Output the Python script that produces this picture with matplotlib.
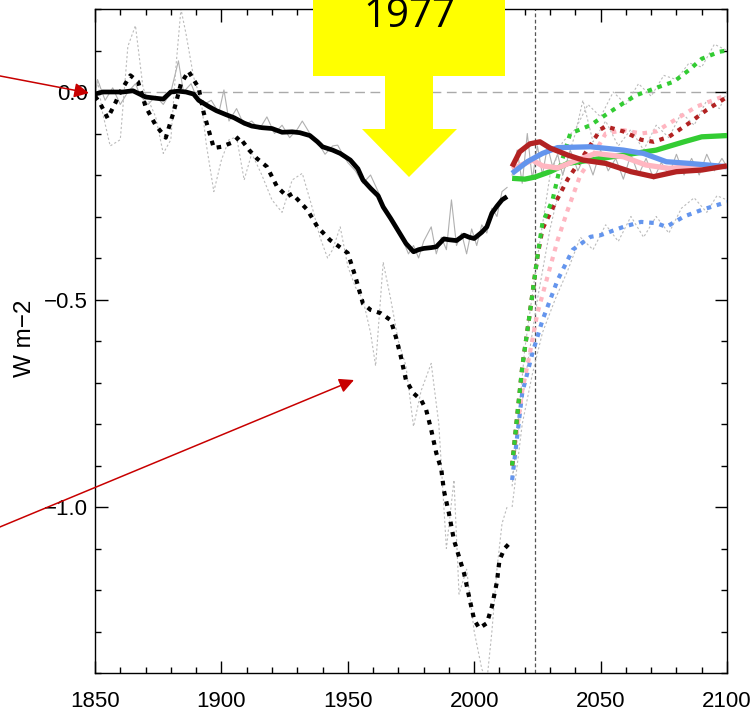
import matplotlib
matplotlib.use("Agg")
import matplotlib.pyplot as plt
from matplotlib.patches import Polygon
import numpy as np

# --- historical series ---
hist_years = [1850, 1853, 1857, 1861, 1865, 1870, 1874, 1877, 1880, 1883, 1886, 1889,
              1891, 1895, 1898, 1902, 1905, 1909, 1912, 1916, 1920, 1924, 1928, 1931,
              1935, 1938, 1940, 1944, 1947, 1951, 1954, 1956, 1959, 1962, 1964, 1967,
              1969, 1971, 1973, 1976, 1978, 1980, 1983, 1985, 1988, 1990, 1993, 1996,
              1998, 2000, 2003, 2005, 2007, 2009, 2011, 2013]
hist_mean = [-0.005, 0.0, 0.0, 0.0, 0.003, -0.012, -0.015, -0.017, 0.0, 0.002, 0.0, -0.005,
             -0.02, -0.035, -0.045, -0.055, -0.062, -0.075, -0.082, -0.086, -0.088, -0.097, -0.096, -0.098,
             -0.105, -0.12, -0.132, -0.14, -0.148, -0.164, -0.185, -0.212, -0.232, -0.25, -0.277, -0.305,
             -0.325, -0.345, -0.365, -0.385, -0.38, -0.377, -0.375, -0.373, -0.354, -0.356, -0.358, -0.345,
             -0.35, -0.353, -0.338, -0.325, -0.292, -0.275, -0.26, -0.252]

hist_dot_years = [1850, 1852, 1855, 1858, 1860, 1862, 1864, 1867, 1870, 1874, 1878, 1881,
                  1884, 1887, 1891, 1893, 1897, 1900, 1905, 1907, 1911, 1914, 1918, 1922,
                  1926, 1928, 1934, 1938, 1943, 1946, 1950, 1953, 1956, 1959, 1963, 1967,
                  1969, 1971, 1973, 1976, 1979, 1981, 1983, 1985, 1987, 1988, 1990, 1992,
                  1994, 1996, 1998, 2000, 2002, 2005, 2007, 2009, 2010, 2012, 2014]
hist_dot = [-0.01, -0.027, -0.063, -0.027, 0.0, 0.02, 0.04, 0.025, -0.035, -0.08, -0.11, -0.05,
            0.02, 0.05, 0.01, -0.05, -0.135, -0.132, -0.12, -0.108, -0.14, -0.16, -0.18, -0.228,
            -0.252, -0.245, -0.284, -0.325, -0.357, -0.37, -0.388, -0.445, -0.51, -0.525, -0.533, -0.55,
            -0.59, -0.638, -0.694, -0.726, -0.742, -0.766, -0.814, -0.87, -0.91, -0.96, -1.015, -1.08,
            -1.12, -1.16, -1.217, -1.272, -1.292, -1.28, -1.24, -1.18, -1.128, -1.10, -1.087]

# thin grey single-realisation curves
gray_years = [1850, 1851, 1854, 1857, 1860, 1863, 1866, 1868, 1871, 1874, 1877, 1880,
              1883, 1885, 1888, 1890, 1893, 1896, 1899, 1901, 1903, 1906, 1909, 1912,
              1915, 1918, 1921, 1924, 1927, 1930, 1932, 1935, 1938, 1941, 1944, 1946,
              1948, 1950, 1953, 1956, 1959, 1962, 1964, 1966, 1968, 1970, 1972, 1974,
              1976, 1978, 1980, 1983, 1985, 1987, 1989, 1991, 1993, 1995, 1997, 1999,
              2001, 2003, 2005, 2007, 2009, 2011, 2013]
gray_solid = [-0.01, 0.03, -0.02, 0.01, -0.03, 0.0, 0.02, -0.01, -0.03, -0.01, -0.03, 0.0,
              0.075, 0.0, 0.02, -0.01, -0.03, -0.02, -0.05, 0.005, -0.07, -0.04, -0.08, -0.07,
              -0.09, -0.06, -0.1, -0.08, -0.11, -0.09, -0.07, -0.1, -0.12, -0.15, -0.13, -0.128,
              -0.15, -0.17, -0.19, -0.22, -0.2, -0.24, -0.27, -0.3, -0.31, -0.34, -0.36, -0.39,
              -0.37, -0.4, -0.36, -0.325, -0.39, -0.35, -0.38, -0.26, -0.37, -0.34, -0.39, -0.33,
              -0.37, -0.32, -0.34, -0.28, -0.3, -0.24, -0.23]

gray_dot_years = [1850, 1851, 1853, 1856, 1860, 1863, 1866, 1869, 1874, 1877, 1880, 1882,
                  1884, 1886, 1889, 1892, 1894, 1897, 1900, 1903, 1906, 1909, 1912, 1916,
                  1920, 1924, 1928, 1932, 1936, 1939, 1942, 1944, 1947, 1950, 1953, 1956,
                  1959, 1961, 1964, 1967, 1970, 1973, 1976, 1979, 1983, 1986, 1989, 1992,
                  1994, 1997, 2000, 2003, 2005, 2007, 2009, 2011, 2013]
gray_dot = [-0.02, 0.03, -0.05, -0.13, -0.115, 0.11, 0.16, 0.01, -0.06, -0.148, -0.115, 0.06,
            0.2, 0.14, 0.036, -0.02, -0.125, -0.24, -0.164, -0.115, -0.108, -0.212, -0.148, -0.2,
            -0.26, -0.29, -0.212, -0.196, -0.28, -0.35, -0.40, -0.38, -0.325, -0.42, -0.47, -0.5,
            -0.58, -0.66, -0.41, -0.5, -0.6, -0.66, -0.806, -0.72, -0.654, -0.8, -1.10, -0.935,
            -1.21, -1.15, -1.3, -1.39, -1.42, -1.3, -1.15, -1.04, -1.0]

# --- future scenarios ---
green_yrs = [2015, 2020, 2024, 2030, 2037, 2046, 2059, 2072, 2083, 2090, 2100]
green_sol = [-0.208, -0.21, -0.205, -0.192, -0.172, -0.164, -0.152, -0.14, -0.12, -0.108, -0.105]
red_yrs = [2015, 2018, 2022, 2026, 2030, 2037, 2043, 2052, 2062, 2071, 2080, 2090, 2100]
red_sol = [-0.18, -0.144, -0.125, -0.12, -0.135, -0.152, -0.164, -0.172, -0.192, -0.204, -0.192, -0.188, -0.178]
blue_yrs = [2015, 2021, 2027, 2033, 2046, 2059, 2067, 2076, 2085, 2100]
blue_sol = [-0.196, -0.168, -0.148, -0.134, -0.132, -0.14, -0.148, -0.168, -0.172, -0.18]
pink_yrs = [2015, 2019, 2023, 2027, 2033, 2039, 2048, 2059, 2068, 2077, 2085, 2100]
pink_sol = [-0.186, -0.175, -0.164, -0.178, -0.183, -0.168, -0.148, -0.156, -0.176, -0.184, -0.18, -0.18]

green_dot_yrs = [2015, 2019, 2022, 2025, 2027, 2031, 2034, 2038, 2046, 2052, 2059, 2064, 2072, 2079, 2085, 2090, 2097, 2100]
green_dot = [-0.90, -0.663, -0.533, -0.397, -0.316, -0.26, -0.18, -0.1, -0.08, -0.055, -0.027, -0.008, 0.01, 0.025, 0.053, 0.08, 0.097, 0.1]
red_dot_yrs = [2015, 2019, 2022, 2025, 2027, 2031, 2037, 2043, 2050, 2052, 2059, 2066, 2071, 2077, 2085, 2092, 2100]
red_dot = [-0.90, -0.663, -0.533, -0.397, -0.33, -0.28, -0.21, -0.156, -0.09, -0.083, -0.095, -0.115, -0.12, -0.108, -0.075, -0.043, -0.012]
pink_dot_yrs = [2015, 2019, 2022, 2025, 2029, 2033, 2037, 2042, 2046, 2052, 2059, 2066, 2072, 2080, 2088, 2100]
pink_dot = [-0.90, -0.72, -0.63, -0.533, -0.445, -0.357, -0.284, -0.2, -0.164, -0.1, -0.092, -0.1, -0.095, -0.065, -0.035, -0.007]
blue_dot_yrs = [2015, 2019, 2023, 2027, 2033, 2039, 2046, 2050, 2059, 2066, 2072, 2076, 2083, 2090, 2100]
blue_dot = [-0.935, -0.725, -0.63, -0.55, -0.453, -0.38, -0.349, -0.345, -0.325, -0.313, -0.316, -0.325, -0.3, -0.284, -0.265]

fut_gray_yrs = [2015, 2017, 2019, 2021, 2023, 2025, 2027, 2029, 2031, 2033, 2035, 2038, 2041, 2044,
                2047, 2050, 2053, 2056, 2059, 2062, 2065, 2068, 2071, 2074, 2077, 2080, 2083,
                2086, 2089, 2092, 2095, 2098, 2100]
fut_gray = [-0.2, -0.14, -0.22, -0.1, -0.21, -0.13, -0.2, -0.13, -0.18, -0.15, -0.2, -0.14, -0.19, -0.15,
            -0.2, -0.14, -0.19, -0.16, -0.21, -0.15, -0.2, -0.16, -0.21, -0.17, -0.2, -0.15, -0.2,
            -0.16, -0.2, -0.15, -0.19, -0.16, -0.18]
fut_gdot_hi_yrs = [2015, 2020, 2025, 2030, 2035, 2040, 2045, 2050, 2055, 2060, 2065, 2070, 2075, 2080, 2085, 2090, 2095, 2100]
fut_gdot_hi = [-0.95, -0.62, -0.4, -0.2, -0.12, -0.09, -0.03, -0.06, 0.0, -0.03, 0.02, -0.01, 0.04, 0.03, 0.07, 0.06, 0.115, 0.1]
fut_gdot_lo_yrs = [2015, 2019, 2023, 2027, 2032, 2037, 2042, 2047, 2052, 2057, 2062, 2067, 2072, 2077, 2082, 2087, 2092, 2096, 2100]
fut_gdot_lo = [-1.0, -0.8, -0.68, -0.58, -0.5, -0.43, -0.35, -0.38, -0.32, -0.36, -0.3, -0.35, -0.3, -0.34, -0.28, -0.255, -0.29, -0.25, -0.26]
fut_gdot_mid_yrs = [2015, 2020, 2025, 2030, 2035, 2040, 2043, 2047, 2052, 2057, 2062, 2067, 2072, 2077, 2082, 2087, 2092, 2097, 2100]
fut_gdot_mid = [-0.93, -0.7, -0.5, -0.33, -0.2, -0.1, -0.02, -0.12, -0.07, -0.13, -0.09, -0.14, -0.08, -0.11, -0.05, -0.08, -0.02, -0.04, 0.0]

plt.rcParams['font.family'] = ['Liberation Sans Narrow', 'Liberation Sans', 'DejaVu Sans']

fig = plt.figure(figsize=(7.53, 7.12), dpi=100)
ax = fig.add_axes([95 / 753, 39 / 712, 632 / 753, 664 / 712])

ax.axhline(0, color='#aaaaaa', lw=1.0, dashes=(7, 4), zorder=1)
ax.axvline(2024, color='#555555', lw=0.9, dashes=(3, 2), zorder=1)

gdot = dict(color='#bbbbbb', lw=0.8, dashes=(2, 2), zorder=2)
ax.plot(gray_years, gray_solid, color='#b0b0b0', lw=0.8, zorder=2)
ax.plot(gray_dot_years, gray_dot, **gdot)
ax.plot(fut_gray_yrs, fut_gray, color='#b0b0b0', lw=0.8, zorder=2)
ax.plot(fut_gdot_hi_yrs, fut_gdot_hi, **gdot)
ax.plot(fut_gdot_mid_yrs, fut_gdot_mid, **gdot)
ax.plot(fut_gdot_lo_yrs, fut_gdot_lo, **gdot)

ax.plot(hist_years, hist_mean, color='black', lw=3.4, solid_capstyle='butt', zorder=4)
ax.plot(hist_dot_years, hist_dot, color='black', lw=3.0, dashes=(1.1, 1.4), dash_capstyle='butt', zorder=4)

dot = dict(lw=3.0, dashes=(1.1, 1.4), dash_capstyle='butt', zorder=3)
ax.plot(blue_dot_yrs, blue_dot, color='#6495ed', **dot)
ax.plot(pink_dot_yrs, pink_dot, color='#ffb6c1', **dot)
ax.plot(red_dot_yrs, red_dot, color='#b22222', **dot)
ax.plot(green_dot_yrs, green_dot, color='#33cc33', lw=3.0, dashes=(1.1, 1.4), dash_capstyle='butt',
        zorder=3, dash_joinstyle='miter')

sol = dict(lw=3.8, solid_capstyle='butt', zorder=5)
ax.plot(green_yrs, green_sol, color='#33cc33', **sol)
ax.plot(pink_yrs, pink_sol, color='#ffb6c1', **sol)
ax.plot(blue_yrs, blue_sol, color='#6495ed', **sol)
ax.plot(red_yrs, red_sol, color='#b22222', **sol)

ax.set_xlim(1850, 2100)
ax.set_ylim(-1.4, 0.2)
ax.set_xticks([1850, 1900, 1950, 2000, 2050, 2100])
ax.set_xticks(np.arange(1850, 2101, 10), minor=True)
ax.set_yticks([-1.0, -0.5, 0.0])
ax.set_yticks(np.arange(-1.4, 0.21, 0.1), minor=True)
ax.set_yticklabels(['\u22121.0', '\u22120.5', '0.0'])
ax.tick_params(which='both', direction='in', top=True, right=True, width=1.0, labelsize=16)
ax.tick_params(which='major', length=9)
ax.tick_params(which='minor', length=4.5)
ax.tick_params(axis='x', pad=13)
ax.tick_params(axis='y', pad=5)
for s in ax.spines.values():
    s.set_linewidth(1.0)

fig.text(25 / 753, 0.525, 'W m\u22122', rotation=90, ha='center', va='center', fontsize=17.5)

# yellow arrow (figure pixel coords, y from bottom)
W, H = 753.0, 712.0
pts = [(313, 720), (505, 720), (505, 636), (433, 636), (433, 583), (457, 583),
       (409, 535), (362, 583), (385, 583), (385, 636), (313, 636)]
fig.add_artist(Polygon([(x / W, y / H) for x, y in pts], closed=True, transform=fig.transFigure,
                       facecolor='#ffff00', edgecolor='none', zorder=10))
fig.text(409 / W, 685 / H, '1977', ha='center', va='baseline', fontsize=29,
         family=['Open Sans', 'DejaVu Sans'], zorder=11)

# red arrows
for (x0, y0), (x1, y1) in [((-5, 637), (89, 619)), ((-5, 183), (354, 332))]:
    ax.annotate('', xy=(x1, y1), xycoords='figure pixels', xytext=(x0, y0), textcoords='figure pixels',
                annotation_clip=False, zorder=12,
                arrowprops=dict(arrowstyle='-|>', color='#c80000', lw=1.1, mutation_scale=22,
                                shrinkA=0, shrinkB=0))

fig.savefig('out.png', dpi=100)
